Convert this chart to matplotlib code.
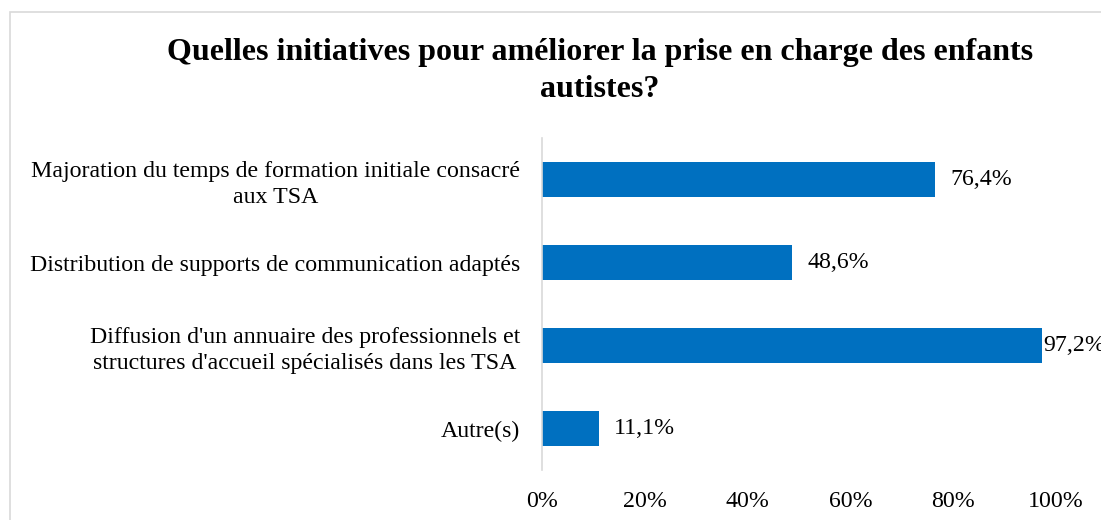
import matplotlib.pyplot as plt
from matplotlib.patches import Rectangle

# data
categories = [
    "Majoration du temps de formation initiale consacré\naux TSA",
    "Distribution de supports de communication adaptés",
    "Diffusion d'un annuaire des professionnels et\nstructures d'accueil spécialisés dans les TSA",
    "Autre(s)",
]
values = [76.4, 48.6, 97.2, 11.1]
xticks = [0, 20, 40, 60, 80, 100]

plt.rcParams['font.family'] = ['Liberation Serif', 'DejaVu Serif']

W, H = 1101, 520
fig = plt.figure(figsize=(W / 100, H / 100), dpi=100)

# light grey chart border (cut at right / bottom like the screenshot)
fig.patches.append(Rectangle((10 / W, -0.05), 1.1, (H - 12) / H + 0.05,
                             transform=fig.transFigure, fill=False,
                             edgecolor='#d9d9d9', linewidth=1.2))

ax = fig.add_axes([542 / W, (H - 470) / H, 514 / W, 332 / H])
y = range(len(categories))
ax.barh(y, values, height=0.41, color='#0070C0')
ax.set_ylim(len(categories) - 0.5, -0.5)
ax.set_xlim(0, 100)

fs = 17.2
ax.set_yticks(list(y))
ax.set_yticklabels(categories, fontsize=fs, ha='right', multialignment='center',
                   linespacing=1.3)
ax.set_xticks(xticks)
ax.set_xticklabels([f"{t}%" for t in xticks], fontsize=fs)
ax.tick_params(axis='both', length=0)
ax.tick_params(axis='y', pad=16)
ax.tick_params(axis='x', pad=15)

for s in ['top', 'right', 'bottom']:
    ax.spines[s].set_visible(False)
ax.spines['left'].set_color('#d9d9d9')
ax.spines['left'].set_linewidth(1.2)

for i, v in enumerate(values):
    off = 1 if v > 90 else 11
    ax.annotate(f"{v:.1f}%".replace('.', ','), (v, i), xytext=(off, 0),
                textcoords='offset points', va='center', ha='left',
                fontsize=fs, annotation_clip=False)

fig.text(0.545, (H - 71) / H,
         "Quelles initiatives pour améliorer la prise en charge des enfants\nautistes?",
         ha='center', va='center', fontsize=23, fontweight='bold',
         linespacing=1.38)

fig.savefig('out.png', dpi=100)
